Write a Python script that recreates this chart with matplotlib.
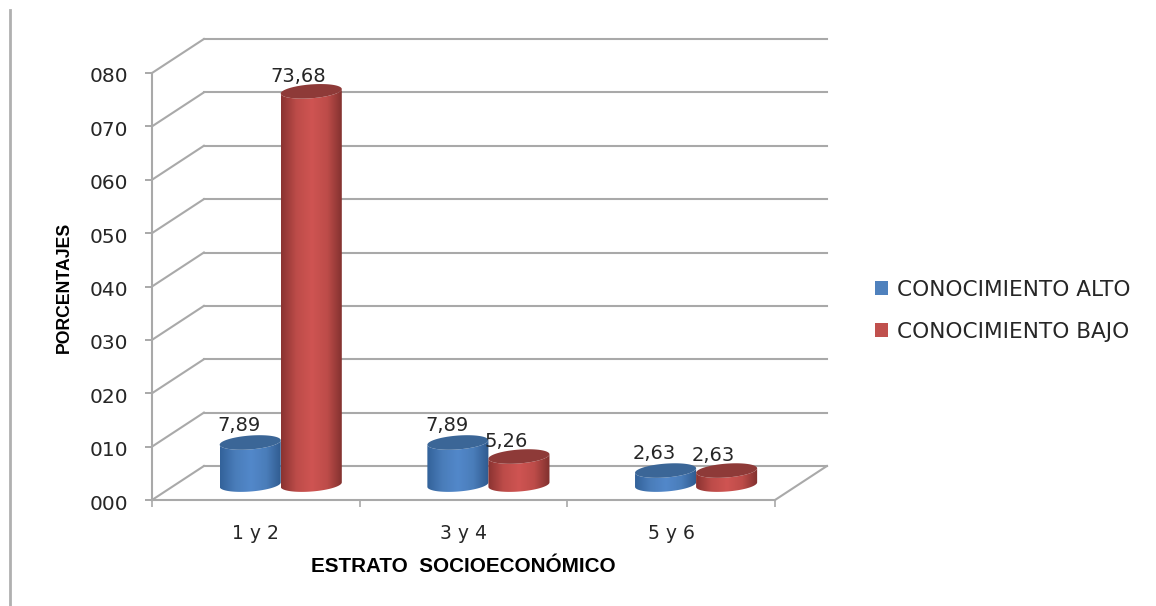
import numpy as np
import matplotlib
matplotlib.use("Agg")
from matplotlib import pyplot as plt
from matplotlib.colors import LinearSegmentedColormap
from matplotlib.lines import Line2D
from matplotlib.patches import Patch, Polygon
from matplotlib.transforms import ScaledTranslation

categories = ["1 y 2", "3 y 4", "5 y 6"]
alto = [7.89, 7.89, 2.63]
bajo = [73.68, 5.26, 2.63]
alto_labels = ["7,89", "7,89", "2,63"]
bajo_labels = ["73,68", "5,26", "2,63"]
y_ticks = [0, 10, 20, 30, 40, 50, 60, 70, 80]
series_names = ["CONOCIMIENTO ALTO", "CONOCIMIENTO BAJO"]

GRID = "#a9a9a9"
TEXT = "#262626"
DEPTH_X = 0.25
DEPTH_Y = 6.37
HALF_W = 0.147
ELL_B = 1.3
ELL_TILT = 0.42

plt.rcParams["font.family"] = "DejaVu Sans"

fig = plt.figure(figsize=(11.56, 6.06), dpi=100)
ax = fig.add_axes([152 / 1156, 106 / 606, 623 / 1156, 427 / 606])
ax.set_xlim(0, 3)
ax.set_ylim(0, 80)
ax.patch.set_visible(False)

# walls of the fake 3d box
for v in y_ticks:
    ax.plot([0, DEPTH_X], [v, v + DEPTH_Y], color=GRID, lw=1.5, clip_on=False, zorder=1)
    ax.plot([DEPTH_X, 3 + DEPTH_X], [v + DEPTH_Y, v + DEPTH_Y], color=GRID, lw=1.5,
            clip_on=False, zorder=1)
ax.plot([3, 3 + DEPTH_X], [0, DEPTH_Y], color=GRID, lw=1.5, clip_on=False, zorder=1)


def ellipse_arc(cx, cy, t):
    x = cx + HALF_W * np.cos(t)
    y = cy + ELL_B * np.sin(t) + ELL_TILT * np.cos(t)
    return np.column_stack([x, y])


def cylinder(cx, value, stops, top_color, z):
    base = DEPTH_Y / 2 - 0.3
    top = base + value
    lower = ellipse_arc(cx, base, np.linspace(np.pi, 2 * np.pi, 60))
    upper = ellipse_arc(cx, top, np.linspace(2 * np.pi, np.pi, 60))
    body = Polygon(np.vstack([lower, upper]), closed=True, transform=ax.transData)
    cmap = LinearSegmentedColormap.from_list("c", stops)
    im = ax.imshow(np.linspace(0, 1, 128).reshape(1, -1), cmap=cmap, aspect="auto",
                   extent=[cx - HALF_W, cx + HALF_W, base - 2, top + 2],
                   zorder=z, clip_on=True)
    im.set_clip_path(body)
    cap = Polygon(ellipse_arc(cx, top, np.linspace(0, 2 * np.pi, 120)), closed=True,
                  facecolor=top_color, edgecolor="none", zorder=z + 0.1, clip_on=False)
    ax.add_patch(cap)
    return top


blue_stops = ["#33629a", "#4a7dba", "#5288ca", "#4a7dba", "#2f5a8e"]
red_stops = ["#8a3331", "#bd4c49", "#cf5452", "#bd4c49", "#7f302e"]

for i in range(len(categories)):
    centre = i + 0.5 + DEPTH_X / 2 - 0.005
    z = 3 + i
    top_a = cylinder(centre - HALF_W, alto[i], blue_stops, "#3b6697", z)
    top_b = cylinder(centre + HALF_W, bajo[i], red_stops, "#8e3a38", z + 0.2)
    ax.annotate(alto_labels[i], (centre - HALF_W, top_a), xytext=(-8, 12),
                textcoords="offset points", ha="center", va="center",
                fontsize=14, color=TEXT, zorder=10)
    ax.annotate(bajo_labels[i], (centre + HALF_W, top_b), xytext=(-9.5, 11),
                textcoords="offset points", ha="center", va="center",
                fontsize=14, color=TEXT, zorder=10)

ax.set_xlim(0, 3)
ax.set_ylim(0, 80)

for side in ["top", "right"]:
    ax.spines[side].set_visible(False)
for side in ["left", "bottom"]:
    ax.spines[side].set_color(GRID)
    ax.spines[side].set_linewidth(1.5)

ax.set_yticks(y_ticks)
ax.set_yticklabels(["%03d" % v for v in y_ticks], fontsize=14.5, color=TEXT)
ax.tick_params(axis="y", length=5, width=1.4, color=GRID, pad=12)
# labels sit a little under their ticks in the original
shift = ScaledTranslation(0, -2 / 100, fig.dpi_scale_trans)
for label in ax.get_yticklabels():
    label.set_transform(label.get_transform() + shift)
ax.set_xticks([0, 1, 2, 3])
ax.set_xticklabels([])
ax.tick_params(axis="x", which="major", length=5, width=1.2, color=GRID)
ax.set_xticks([0.5, 1.5, 2.5], minor=True)
ax.set_xticklabels(categories, minor=True, fontsize=13.5, color=TEXT)
ax.tick_params(axis="x", which="minor", length=0, pad=17)

fig.text(64 / 1156, 1 - 287 / 606, "PORCENTAJES", rotation=90, ha="center", va="center",
         fontsize=12.7, fontweight="bold", family="Liberation Sans", color="black")
fig.text(463.5 / 1156, 1 - 566 / 606, "ESTRATO  SOCIOECONÓMICO", ha="center", va="center",
         fontsize=14.9, fontweight="bold", family="Liberation Sans", color="black")

handles = [Patch(facecolor="#4f81bd"), Patch(facecolor="#c0504d")]
fig.legend(handles, series_names, loc="center left", bbox_to_anchor=(855 / 1156, 1 - 311 / 606),
           frameon=False, fontsize=15.6, labelcolor=TEXT, handlelength=0.64, handleheight=0.62,
           handletextpad=0.38, labelspacing=1.02)

fig.add_artist(Line2D([10 / 1156, 10 / 1156], [0, 1 - 10 / 606], color="#b0b0b0", lw=2))

fig.savefig("out.png", dpi=100)
